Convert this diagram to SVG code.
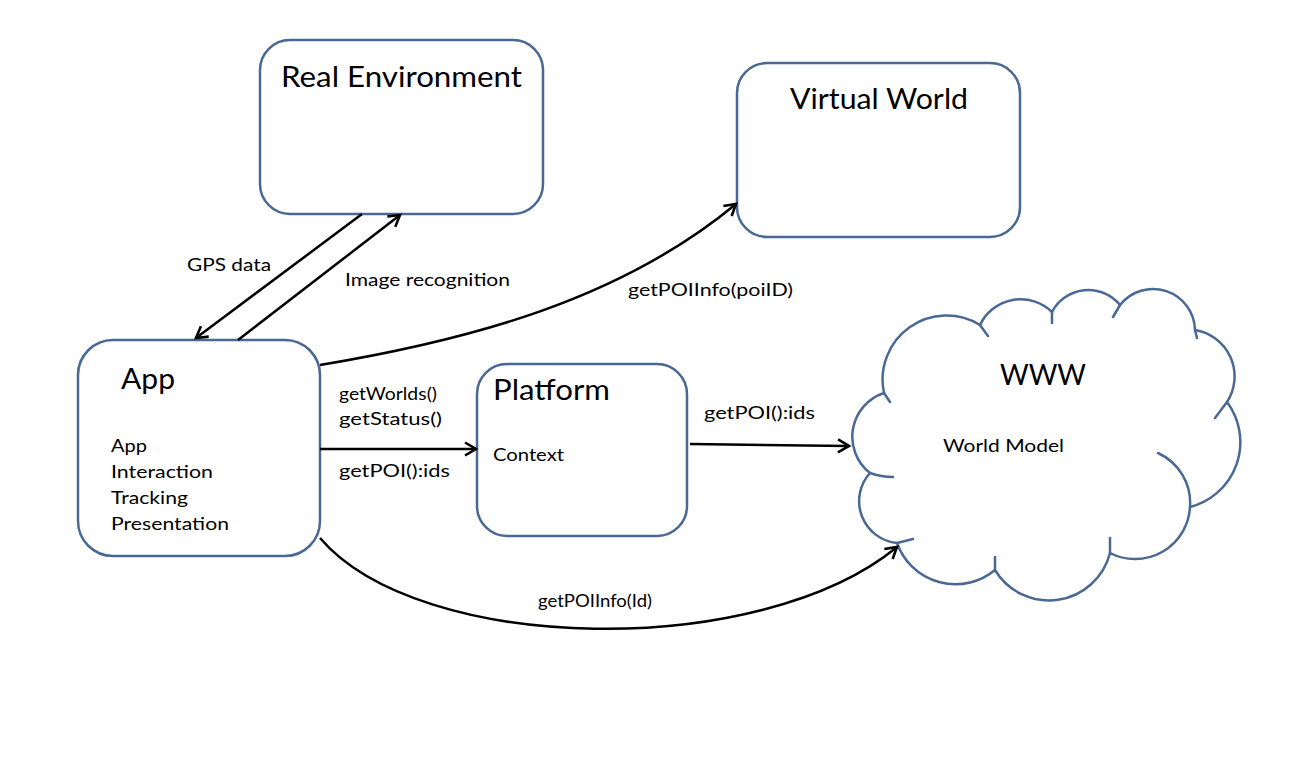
<svg xmlns="http://www.w3.org/2000/svg" width="1300" height="768" viewBox="0 0 1300 768">
<defs>
<style>
.box{fill:#fff;stroke:#4a6894;stroke-width:2.5}
.cloud{fill:#fff;stroke:#4a6894;stroke-width:2.5;stroke-linejoin:round}
.stub{fill:none;stroke:#4a6894;stroke-width:2.5;stroke-linecap:round}
.conn{fill:none;stroke:#000;stroke-width:2.5}
.t{font-family:Lato,"Liberation Sans",sans-serif;fill:#000}
.big{font-size:28px}
.sm{font-size:18px}
</style>
<marker id="arr" markerUnits="userSpaceOnUse" markerWidth="18" markerHeight="18" viewBox="0 0 18 18" refX="15" refY="9" orient="auto">
<path d="M4,2.5 L15,9 L4,15.5" fill="none" stroke="#000" stroke-width="2.6" stroke-linejoin="miter"/>
</marker>
</defs>
<rect width="1300" height="768" fill="#fff"/>

<g id="real-environment">
<rect class="box" x="260" y="40" width="283" height="174" rx="30"/>
<text class="t big" x="281" y="87" textLength="241" lengthAdjust="spacingAndGlyphs">Real Environment</text>
</g>

<g id="virtual-world">
<rect class="box" x="737" y="63" width="283" height="174" rx="30"/>
<text class="t big" x="790" y="109" textLength="178" lengthAdjust="spacingAndGlyphs">Virtual World</text>
</g>

<g id="app">
<rect class="box" x="78" y="340" width="242" height="216" rx="35"/>
<text class="t" x="121" y="389" font-size="29" textLength="54" lengthAdjust="spacingAndGlyphs">App</text>
<text class="t sm" x="111" y="452" textLength="36" lengthAdjust="spacingAndGlyphs">App</text>
<text class="t sm" x="111" y="478" textLength="102" lengthAdjust="spacingAndGlyphs">Interaction</text>
<text class="t sm" x="111" y="504" textLength="77" lengthAdjust="spacingAndGlyphs">Tracking</text>
<text class="t sm" x="111" y="530" textLength="118" lengthAdjust="spacingAndGlyphs">Presentation</text>
</g>

<g id="platform">
<rect class="box" x="477" y="364" width="210" height="172" rx="30"/>
<text class="t big" x="493" y="400" textLength="117" lengthAdjust="spacingAndGlyphs">Platform</text>
<text class="t sm" x="493" y="461" textLength="71" lengthAdjust="spacingAndGlyphs">Context</text>
</g>

<g id="www">
<path class="cloud" d="M870,473 A46 46 0 0 1 884,393 A64 64 0 0 1 980,325 A45 45 0 0 1 1052,312 A41 41 0 0 1 1120,305 A42 42 0 0 1 1195,330 A47 47 0 0 1 1227,402 A67 67 0 0 1 1190,507 A55 55 0 0 1 1110,553 A63 63 0 0 1 995,570 A62 62 0 0 1 897,543 A42 42 0 0 1 870,473 Z"/>
<path class="stub" d="M870,473 Q881,477 893,477 M884,393 L890,402 M980,325 L988,336 M1052,312 L1052,323 M1120,305 L1113,317 M1195,330 L1197,338 M1227,402 L1215,418 M1158,453 A55 55 0 0 1 1190,507 M1110,553 L1110,538 M995,570 L995,557 M897,543 L913,539"/>
<text class="t big" x="1000" y="385" textLength="86" lengthAdjust="spacingAndGlyphs">WWW</text>
<text class="t sm" x="943" y="452" textLength="121" lengthAdjust="spacingAndGlyphs">World Model</text>
</g>

<g id="connectors">
<path class="conn" d="M362,214 L196,338" marker-end="url(#arr)"/>
<path class="conn" d="M238,340 L400,215" marker-end="url(#arr)"/>
<path class="conn" d="M320,365 C470,340 620,300 736,204" marker-end="url(#arr)"/>
<path class="conn" d="M320,449 L476,449" marker-end="url(#arr)"/>
<path class="conn" d="M690,444 L849,446" marker-end="url(#arr)"/>
<path class="conn" d="M320,538 C420,655 760,660 897,547" marker-end="url(#arr)"/>
<text class="t sm" x="187" y="271" textLength="84" lengthAdjust="spacingAndGlyphs">GPS data</text>
<text class="t sm" x="345" y="286" textLength="165" lengthAdjust="spacingAndGlyphs">Image recognition</text>
<text class="t sm" x="628" y="296" textLength="165" lengthAdjust="spacingAndGlyphs">getPOIInfo(poiID)</text>
<text class="t sm" x="339" y="400" textLength="98" lengthAdjust="spacingAndGlyphs">getWorlds()</text>
<text class="t sm" x="339" y="425" textLength="103" lengthAdjust="spacingAndGlyphs">getStatus()</text>
<text class="t sm" x="339" y="477" textLength="111" lengthAdjust="spacingAndGlyphs">getPOI():ids</text>
<text class="t sm" x="704" y="419" textLength="111" lengthAdjust="spacingAndGlyphs">getPOI():ids</text>
<text class="t sm" x="538" y="607" textLength="114" lengthAdjust="spacingAndGlyphs">getPOIInfo(Id)</text>
</g>
</svg>
